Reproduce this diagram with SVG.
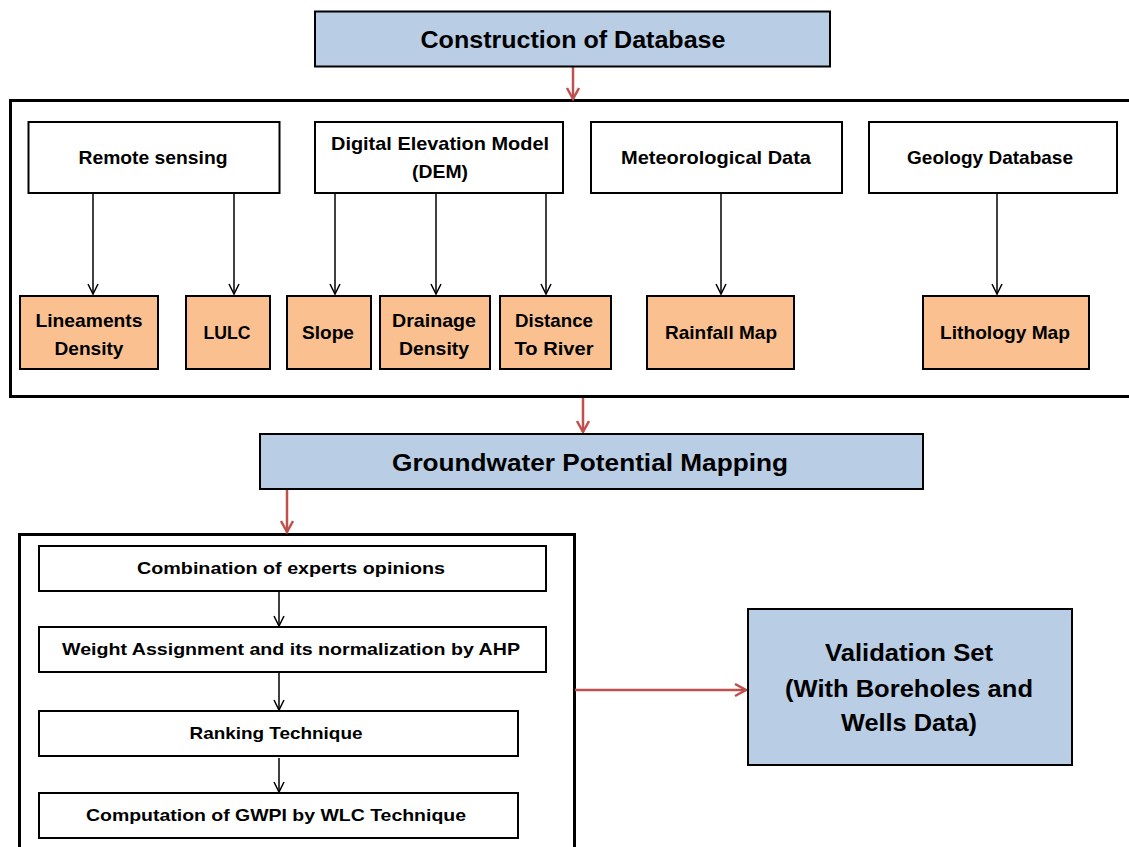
<svg xmlns="http://www.w3.org/2000/svg" width="1129" height="847" viewBox="0 0 1129 847">
<style>
.blue{fill:#b9cde5;stroke:#000;stroke-width:2}
.white{fill:#fff;stroke:#000;stroke-width:2}
.orange{fill:#fac090;stroke:#000;stroke-width:2}
.frame{fill:none;stroke:#000;stroke-width:3}
.t{font-family:"Liberation Sans",Arial,sans-serif;font-weight:bold;fill:#000;text-anchor:middle;dominant-baseline:central}
.big{font-size:24px}
.mid{font-size:19px}
.sm{font-size:17px}
.blk{stroke:#000;stroke-width:1.5;fill:none}
.red{stroke:#c0504d;stroke-width:2.5;fill:none}
</style>
<defs>
<marker id="ab" markerUnits="userSpaceOnUse" markerWidth="14" markerHeight="14" refX="11" refY="6" orient="auto">
<path d="M1,1 L11,6 L1,11" fill="none" stroke="#000" stroke-width="1.5"/>
</marker>
<marker id="ar" markerUnits="userSpaceOnUse" markerWidth="16" markerHeight="16" refX="12" refY="7" orient="auto">
<path d="M1,1 L12,7 L1,13" fill="none" stroke="#c0504d" stroke-width="2.5"/>
</marker>
</defs>

<rect x="10.5" y="100.5" width="1125" height="296" class="frame"/>
<rect x="19.5" y="534.5" width="555" height="330" class="frame"/>

<g id="connectors">
<line x1="573" y1="67" x2="573" y2="99" class="red" marker-end="url(#ar)"/>
<line x1="93" y1="194" x2="93" y2="294" class="blk" marker-end="url(#ab)"/>
<line x1="234" y1="194" x2="234" y2="294" class="blk" marker-end="url(#ab)"/>
<line x1="335" y1="194" x2="335" y2="294" class="blk" marker-end="url(#ab)"/>
<line x1="436" y1="194" x2="436" y2="294" class="blk" marker-end="url(#ab)"/>
<line x1="546" y1="194" x2="546" y2="294" class="blk" marker-end="url(#ab)"/>
<line x1="721" y1="194" x2="721" y2="294" class="blk" marker-end="url(#ab)"/>
<line x1="997" y1="194" x2="997" y2="294" class="blk" marker-end="url(#ab)"/>
<line x1="583" y1="398" x2="583" y2="432" class="red" marker-end="url(#ar)"/>
<line x1="287" y1="490" x2="287" y2="532" class="red" marker-end="url(#ar)"/>
<line x1="279" y1="592" x2="279" y2="626" class="blk" marker-end="url(#ab)"/>
<line x1="279" y1="673" x2="279" y2="710" class="blk" marker-end="url(#ab)"/>
<line x1="279" y1="758" x2="279" y2="792" class="blk" marker-end="url(#ab)"/>
<line x1="575" y1="690" x2="746" y2="690" class="red" marker-end="url(#ar)"/>
</g>

<g id="construction">
<rect x="315" y="11.5" width="515" height="55" class="blue"/>
<text x="573" y="39" class="t big" textLength="305" lengthAdjust="spacingAndGlyphs">Construction of Database</text>
</g>

<g id="remote-sensing">
<rect x="28.5" y="122" width="251" height="71" class="white"/>
<text x="153" y="157" class="t mid" textLength="149" lengthAdjust="spacingAndGlyphs">Remote sensing</text>
</g>
<g id="dem">
<rect x="315" y="122" width="248" height="71" class="white"/>
<text x="440" y="143" class="t mid" textLength="218" lengthAdjust="spacingAndGlyphs">Digital Elevation Model</text>
<text x="440" y="171" class="t mid" textLength="56" lengthAdjust="spacingAndGlyphs">(DEM)</text>
</g>
<g id="meteorological">
<rect x="591" y="122" width="251" height="71" class="white"/>
<text x="716" y="157" class="t mid" textLength="190" lengthAdjust="spacingAndGlyphs">Meteorological Data</text>
</g>
<g id="geology">
<rect x="869" y="122" width="248" height="71" class="white"/>
<text x="990" y="157" class="t mid" textLength="166" lengthAdjust="spacingAndGlyphs">Geology Database</text>
</g>

<g id="lineaments">
<rect x="20" y="296" width="138" height="73" class="orange"/>
<text x="89" y="320" class="t mid" textLength="107" lengthAdjust="spacingAndGlyphs">Lineaments</text>
<text x="89" y="348" class="t mid" textLength="69" lengthAdjust="spacingAndGlyphs">Density</text>
</g>
<g id="lulc">
<rect x="186" y="296" width="84" height="73" class="orange"/>
<text x="227" y="332" class="t mid" textLength="47" lengthAdjust="spacingAndGlyphs">LULC</text>
</g>
<g id="slope">
<rect x="287" y="296" width="84" height="73" class="orange"/>
<text x="328" y="332" class="t mid" textLength="52" lengthAdjust="spacingAndGlyphs">Slope</text>
</g>
<g id="drainage">
<rect x="380" y="296" width="110" height="73" class="orange"/>
<text x="434" y="320" class="t mid" textLength="84" lengthAdjust="spacingAndGlyphs">Drainage</text>
<text x="434" y="348" class="t mid" textLength="70" lengthAdjust="spacingAndGlyphs">Density</text>
</g>
<g id="distance">
<rect x="500" y="296" width="111" height="73" class="orange"/>
<text x="554" y="320" class="t mid" textLength="78" lengthAdjust="spacingAndGlyphs">Distance</text>
<text x="554" y="348" class="t mid" textLength="79" lengthAdjust="spacingAndGlyphs">To River</text>
</g>
<g id="rainfall">
<rect x="647" y="296" width="147" height="73" class="orange"/>
<text x="721" y="332" class="t mid" textLength="112" lengthAdjust="spacingAndGlyphs">Rainfall Map</text>
</g>
<g id="lithology">
<rect x="923" y="296" width="166" height="73" class="orange"/>
<text x="1005" y="332" class="t mid" textLength="130" lengthAdjust="spacingAndGlyphs">Lithology Map</text>
</g>

<g id="groundwater">
<rect x="260" y="434" width="663" height="55" class="blue"/>
<text x="590" y="462" class="t big" textLength="396" lengthAdjust="spacingAndGlyphs">Groundwater Potential Mapping</text>
</g>

<g id="combination">
<rect x="39" y="546" width="507" height="45" class="white"/>
<text x="291" y="568" class="t sm" textLength="308" lengthAdjust="spacingAndGlyphs">Combination of experts opinions</text>
</g>
<g id="weight">
<rect x="39" y="627" width="507" height="45" class="white"/>
<text x="291" y="649" class="t sm" textLength="458" lengthAdjust="spacingAndGlyphs">Weight Assignment and its normalization by AHP</text>
</g>
<g id="ranking">
<rect x="39" y="711" width="479" height="45" class="white"/>
<text x="276" y="733" class="t sm" textLength="173" lengthAdjust="spacingAndGlyphs">Ranking Technique</text>
</g>
<g id="computation">
<rect x="39" y="793" width="479" height="45" class="white"/>
<text x="276" y="815" class="t sm" textLength="380" lengthAdjust="spacingAndGlyphs">Computation of GWPI by WLC Technique</text>
</g>

<g id="validation">
<rect x="748" y="609" width="324" height="156" class="blue"/>
<text x="909" y="652" class="t big" textLength="168" lengthAdjust="spacingAndGlyphs">Validation Set</text>
<text x="909" y="688" class="t big" textLength="248" lengthAdjust="spacingAndGlyphs">(With Boreholes and</text>
<text x="909" y="722" class="t big" textLength="136" lengthAdjust="spacingAndGlyphs">Wells Data)</text>
</g>
</svg>
